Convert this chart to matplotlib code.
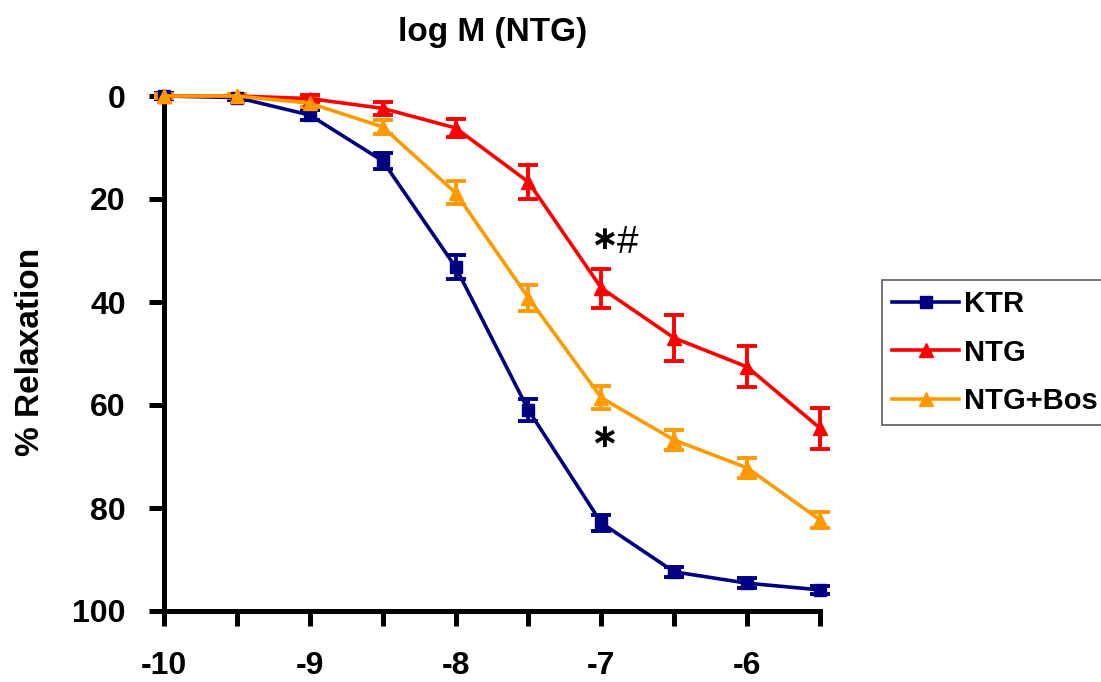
import matplotlib
matplotlib.use("Agg")
import matplotlib.pyplot as plt
from matplotlib.lines import Line2D

plt.rcParams['font.family'] = ['Liberation Sans', 'DejaVu Sans']
plt.rcParams['font.weight'] = 'bold'

log_conc = [-10, -9.5, -9, -8.5, -8, -7.5, -7, -6.5, -6, -5.5]
ktr = [0, 0.3, 3.7, 12.6, 33.2, 61.0, 82.9, 92.4, 94.6, 95.9]
ktr_err = [0.5, 0.5, 1.0, 1.5, 2.3, 2.1, 1.6, 1.0, 1.0, 0.8]
ntg = [0, 0, 0.5, 2.4, 6.2, 16.7, 37.3, 47.0, 52.6, 64.5]
ntg_err = [0.3, 0.3, 0.6, 1.2, 1.8, 3.3, 3.8, 4.5, 4.0, 4.0]
bos = [0, 0, 1.4, 6.0, 18.8, 39.2, 58.6, 66.8, 72.2, 82.3]
bos_err = [0.3, 0.3, 0.8, 1.3, 2.2, 2.5, 2.2, 2.0, 2.0, 1.5]
labels = ["KTR", "NTG", "NTG+Bos"]
xtick_vals = [-10, -9.5, -9, -8.5, -8, -7.5, -7, -6.5, -6, -5.5]
xtick_labels = ["-10", "", "-9", "", "-8", "", "-7", "", "-6", ""]
ytick_vals = [0, 20, 40, 60, 80, 100]

fig = plt.figure(figsize=(11.01, 6.82), dpi=100)
ax = fig.add_axes([164/1101, 1-611/682, (820-164)/1101, (611-96)/682])

series = [
    (ktr, ktr_err, '#000080', 's', 8.5),
    (ntg, ntg_err, '#FF0000', '^', 10.5),
    (bos, bos_err, '#FF9900', '^', 10.5),
]
handles = []
for (vals, errs, col, mk, ms), lab in zip(series, labels):
    eb = ax.errorbar(log_conc, vals, yerr=errs, color=col, marker=mk, markersize=ms,
                     linewidth=2.6, elinewidth=2.8, capsize=7.5, capthick=2.8,
                     clip_on=False, zorder=3)
    for c in eb[1]:
        c.set_clip_on(False)
    for c in eb[2]:
        c.set_clip_on(False)
    handles.append(Line2D([], [], color=col, marker=mk, markersize=ms, linewidth=2.6))

ax.set_xlim(-10, -5.5)
ax.set_ylim(100, 0)
ax.set_xticks(xtick_vals)
ax.set_xticklabels(xtick_labels)
ax.set_yticks(ytick_vals)
ax.tick_params(axis='both', direction='out', length=10.5, width=3.6, labelsize=23)
ax.tick_params(axis='y', pad=17)
ax.tick_params(axis='x', pad=18)
for lab in ax.get_xticklabels() + ax.get_yticklabels():
    lab.set_fontweight('bold')
for s in ['top', 'right']:
    ax.spines[s].set_visible(False)
for s in ['left', 'bottom']:
    ax.spines[s].set_linewidth(3.6)

fig.text(31/1101, 1-352/682, "% Relaxation", fontsize=24, fontweight='bold',
         rotation=90, ha='center', va='center')
fig.text(493/1101, 1-32/682, "log M (NTG)", fontsize=24, fontweight='bold', ha='center', va='center')

ax.text(-6.98, 28, "\u2217", fontsize=24, fontweight='bold', ha='center', va='center')
ax.text(-6.82, 28.6, "#", fontsize=28, fontweight='normal', ha='center', va='center')
ax.text(-6.98, 66.5, "\u2217", fontsize=24, fontweight='bold', ha='center', va='center')

leg = fig.legend(handles, labels, loc='upper left', bbox_to_anchor=(882/1101, 1-280/682),
                 fontsize=21, frameon=True, fancybox=False, edgecolor='#333333',
                 handlelength=2.3, handletextpad=0.15, labelspacing=0.7, borderpad=0.35,
                 borderaxespad=0)
leg.get_frame().set_linewidth(1.2)
for t in leg.get_texts():
    t.set_fontweight('bold')

fig.savefig("out.png", dpi=100)
